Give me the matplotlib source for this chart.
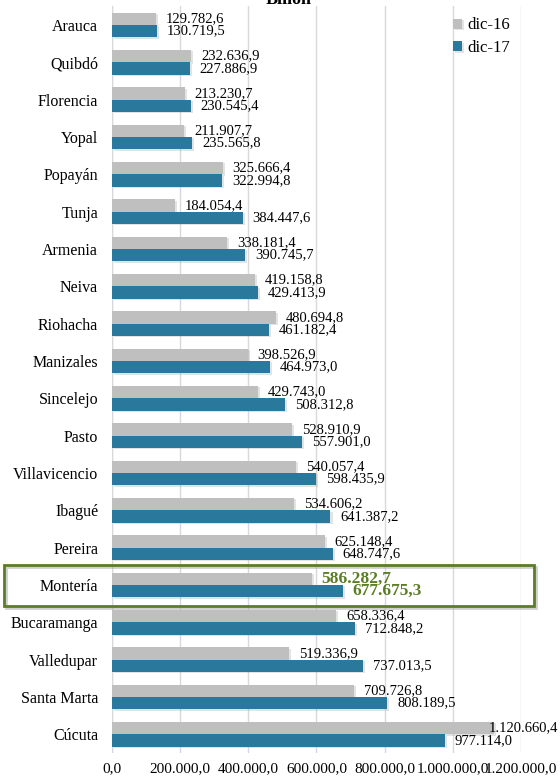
import matplotlib.pyplot as plt
import matplotlib.patheffects as pe
from matplotlib.patches import Rectangle
from matplotlib.transforms import blended_transform_factory
import numpy as np

ciudades = ['Arauca', 'Quibdó', 'Florencia', 'Yopal', 'Popayán', 'Tunja', 'Armenia',
            'Neiva', 'Riohacha', 'Manizales', 'Sincelejo', 'Pasto', 'Villavicencio',
            'Ibagué', 'Pereira', 'Montería', 'Bucaramanga', 'Valledupar',
            'Santa Marta', 'Cúcuta']
dic16 = [129782.6, 232636.9, 213230.7, 211907.7, 325666.4, 184054.4, 338181.4,
         419158.8, 480694.8, 398526.9, 429743.0, 528910.9, 540057.4,
         534606.2, 625148.4, 586282.7, 658336.4, 519336.9, 709726.8, 1120660.4]
dic17 = [130719.5, 227886.9, 230545.4, 235565.8, 322994.8, 384447.6, 390745.7,
         429413.9, 461182.4, 464973.0, 508312.8, 557901.0, 598435.9,
         641387.2, 648747.6, 677675.3, 712848.2, 737013.5, 808189.5, 977114.0]
xticks = [0, 200000, 400000, 600000, 800000, 1000000, 1200000]
resaltado = 'Montería'

GRIS = '#BFBFBF'
AZUL = '#2A789B'
VERDE = '#5A7D25'


def fmt(v):
    # 1234567.8 -> 1.234.567,8
    s = f'{v:,.1f}'
    return s.replace(',', 'X').replace('.', ',').replace('X', '.')


plt.rcParams['font.family'] = ['Liberation Serif', 'DejaVu Serif']

fig = plt.figure(figsize=(5.6, 7.77), dpi=100)
ax = fig.add_axes([0.2, 0.031, 0.73, 0.961])

y = np.arange(len(ciudades))
h = 0.33
sombra = [pe.SimplePatchShadow(offset=(1.5, -1), shadow_rgbFace='#909090', alpha=0.25),
          pe.Normal()]

b16 = ax.barh(y - h / 2, dic16, height=h, color=GRIS, label='dic-16', zorder=3)
b17 = ax.barh(y + h / 2, dic17, height=h, color=AZUL, label='dic-17', zorder=3)
for bar in list(b16) + list(b17):
    bar.set_path_effects(sombra)

# etiquetas que no caben a la derecha se alinean con el borde de la figura
borde = blended_transform_factory(fig.transFigure, ax.transData)


def etiqueta(v, yy, kw):
    if v > 1050000:
        ax.text(0.996, yy, fmt(v), transform=borde, ha='right', va='center',
                clip_on=False, zorder=5, **kw)
    else:
        ax.annotate(fmt(v), (v, yy), xytext=(7, 0), textcoords='offset points',
                    va='center', ha='left', annotation_clip=False, zorder=5, **kw)


for i, (c, a, b) in enumerate(zip(ciudades, dic16, dic17)):
    if c == resaltado:
        kw = dict(color=VERDE, fontweight='bold', fontsize=12.5)
    else:
        kw = dict(color='black', fontsize=10.5)
    etiqueta(a, i - h / 2, kw)
    etiqueta(b, i + h / 2, kw)

ax.set_ylim(len(ciudades) - 0.5, -0.5)
ax.set_xlim(0, 1200000)
ax.set_yticks(y)
ax.set_yticklabels(ciudades, fontsize=11.5)
ax.set_xticks(xticks)
ax.set_xticklabels([fmt(v) for v in xticks], fontsize=11)
ax.tick_params(axis='both', length=0)
ax.tick_params(axis='x', pad=7)
ax.tick_params(axis='y', pad=10)
for s in ax.spines.values():
    s.set_visible(False)
ax.grid(axis='x', color='#D9D9D9', linewidth=1, zorder=0)
ax.axvline(0, color='#D9D9D9', linewidth=1, zorder=0)

# recuadro sobre la fila destacada, con una sombra tenue
rx, ry, rw, rh = 4 / 560, 1 - 606 / 777, 530 / 560, 41 / 777
fig.patches.append(Rectangle((rx + 2 / 560, ry - 2 / 777), rw, rh, transform=fig.transFigure,
                             fill=False, edgecolor='#A0A0A0', alpha=0.5, linewidth=2, zorder=5))
fig.patches.append(Rectangle((rx, ry), rw, rh, transform=fig.transFigure,
                             fill=False, edgecolor=VERDE, linewidth=2, zorder=6))

ax.legend(loc='upper right', bbox_to_anchor=(1.01, 1.005), frameon=False, fontsize=12,
          handlelength=0.55, handleheight=0.55, handletextpad=0.3, labelspacing=0.4)

fig.text(0.516, 1.0, 'Billon', ha='center', va='center', fontsize=13, fontweight='bold')

fig.savefig('out.png', dpi=100)
